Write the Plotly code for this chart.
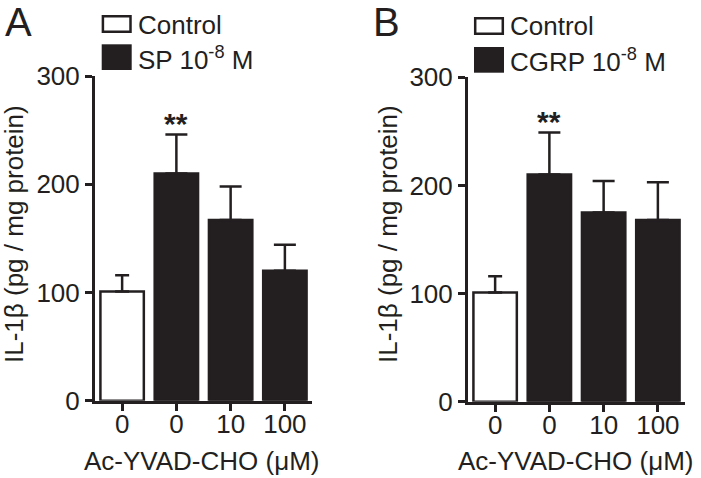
import plotly.graph_objects as go

# ---------------- data ----------------
tick_labels = ["0", "0", "10", "100"]
y_ticks = [0, 100, 200, 300]

ctrl_A = [101]
ctrl_A_err = [15]
sp_vals = [210, 167, 120]
sp_err = [36, 31, 24]

ctrl_B = [101]
ctrl_B_err = [15]
cgrp_vals = [210, 175, 168]
cgrp_err = [39, 29, 35]

legend_A = ["Control", "SP 10<sup>-8</sup> M"]
legend_B = ["Control", "CGRP 10<sup>-8</sup> M"]
panel_labels = ["A", "B"]
y_title = "IL-1β (pg / mg protein)"
x_title = "Ac-YVAD-CHO (μM)"
sig_text = "**"

# ---------------- style ----------------
W, H = 701, 478
INK = "#231f20"
FONT = "Liberation Sans, Arial, sans-serif"
FS = 26


def px(x):
    return x / W


def py(y):
    return 1 - y / H


xs = list(range(len(tick_labels)))

fig = go.Figure()


def add_panel(n, ctrl, ctrl_err, vals, err):
    xa = "x" if n == 1 else "x2"
    ya = "y" if n == 1 else "y2"
    fig.add_trace(go.Bar(
        x=xs[:1], y=ctrl, width=0.8, xaxis=xa, yaxis=ya,
        marker=dict(color="white", line=dict(color=INK, width=2.5)),
        error_y=dict(type="data", array=ctrl_err, arrayminus=[0] * len(ctrl_err),
                     symmetric=False, color=INK, thickness=2.5, width=7),
        showlegend=False, hoverinfo="y"))
    fig.add_trace(go.Bar(
        x=xs[1:], y=vals, width=0.8, xaxis=xa, yaxis=ya,
        marker=dict(color=INK, line=dict(color=INK, width=2.5)),
        error_y=dict(type="data", array=err, arrayminus=[0] * len(err),
                     symmetric=False, color=INK, thickness=2.5, width=11),
        showlegend=False, hoverinfo="y"))
    # significance
    fig.add_annotation(x=xs[1], y=vals[0] + err[0], xref=xa, yref=ya,
                       text=f"<b>{sig_text}</b>", showarrow=False,
                       yanchor="bottom", yshift=-8,
                       font=dict(size=30, color=INK, family=FONT))


add_panel(1, ctrl_A, ctrl_A_err, sp_vals, sp_err)
add_panel(2, ctrl_B, ctrl_B_err, cgrp_vals, cgrp_err)

axis_common = dict(showgrid=False, zeroline=False, showline=True, automargin=False,
                   linecolor=INK, linewidth=3, ticks="outside",
                   tickwidth=2.5, tickcolor=INK, ticklen=7,
                   tickfont=dict(size=FS, color=INK, family=FONT))
x_extra = dict(ticklabelstandoff=-9)

fig.update_layout(
    width=W, height=H,
    margin=dict(l=0, r=0, t=0, b=0, pad=0),
    paper_bgcolor="white", plot_bgcolor="white",
    barmode="overlay",
    font=dict(family=FONT, color=INK),
    xaxis=dict(domain=[px(95), px(312)], range=[-0.5, 3.5],
               tickvals=xs, ticktext=tick_labels, anchor="y", **axis_common, **x_extra),
    yaxis=dict(domain=[py(400.7), py(76)], range=[0, 300],
               tickvals=y_ticks, anchor="x", **axis_common),
    xaxis2=dict(domain=[px(468), px(685)], range=[-0.5, 3.5],
                tickvals=xs, ticktext=tick_labels, anchor="y2", **axis_common, **x_extra),
    yaxis2=dict(domain=[py(401.7), py(77.3)], range=[0, 300],
                tickvals=y_ticks, anchor="x2", **axis_common),
)

# axis titles & panel labels & legends
panels = [
    dict(xc=202.5, ytc=14, xl=3, sq=(101.7, 131.7), sq1=(15, 33), sq2=(44.3, 70),
         tx=136, ty1=25, ty2=58, legend=legend_A, label=panel_labels[0]),
    dict(xc=576, ytc=388, xl=371, sq=(474, 504), sq1=(17, 35), sq2=(47, 72.7),
         tx=508, ty1=26, ty2=60, legend=legend_B, label=panel_labels[1]),
]

for p in panels:
    fig.add_annotation(x=px(p["xc"]), y=py(461), xref="paper", yref="paper",
                       text=x_title, showarrow=False, xanchor="center", yanchor="middle",
                       font=dict(size=FS, color=INK, family=FONT))
    fig.add_annotation(x=px(p["ytc"]), y=py(234), xref="paper", yref="paper",
                       text=y_title, showarrow=False, textangle=-90,
                       xanchor="center", yanchor="middle",
                       font=dict(size=FS, color=INK, family=FONT))
    fig.add_annotation(x=px(p["xl"]), y=py(22), xref="paper", yref="paper",
                       text=p["label"], showarrow=False, xanchor="left", yanchor="middle",
                       font=dict(size=40, color=INK, family=FONT))
    x0, x1 = p["sq"]
    fig.add_shape(type="rect", xref="paper", yref="paper",
                  x0=px(x0 + 1.2), x1=px(x1 - 1.2),
                  y0=py(p["sq1"][1] - 1.2), y1=py(p["sq1"][0] + 1.2),
                  line=dict(color=INK, width=2.5), fillcolor="white")
    fig.add_shape(type="rect", xref="paper", yref="paper",
                  x0=px(x0), x1=px(x1), y0=py(p["sq2"][1]), y1=py(p["sq2"][0]),
                  line=dict(color=INK, width=0), fillcolor=INK)
    fig.add_annotation(x=px(p["tx"]), y=py(p["ty1"]), xref="paper", yref="paper",
                       text=p["legend"][0], showarrow=False, xanchor="left", yanchor="middle",
                       font=dict(size=FS, color=INK, family=FONT))
    fig.add_annotation(x=px(p["tx"]), y=py(p["ty2"]), xref="paper", yref="paper",
                       text=p["legend"][1], showarrow=False, xanchor="left", yanchor="middle",
                       font=dict(size=FS, color=INK, family=FONT))

fig.write_html("out.html", config={"displayModeBar": False},
               post_script="document.body.style.margin='0px';document.body.style.overflow='hidden';")
